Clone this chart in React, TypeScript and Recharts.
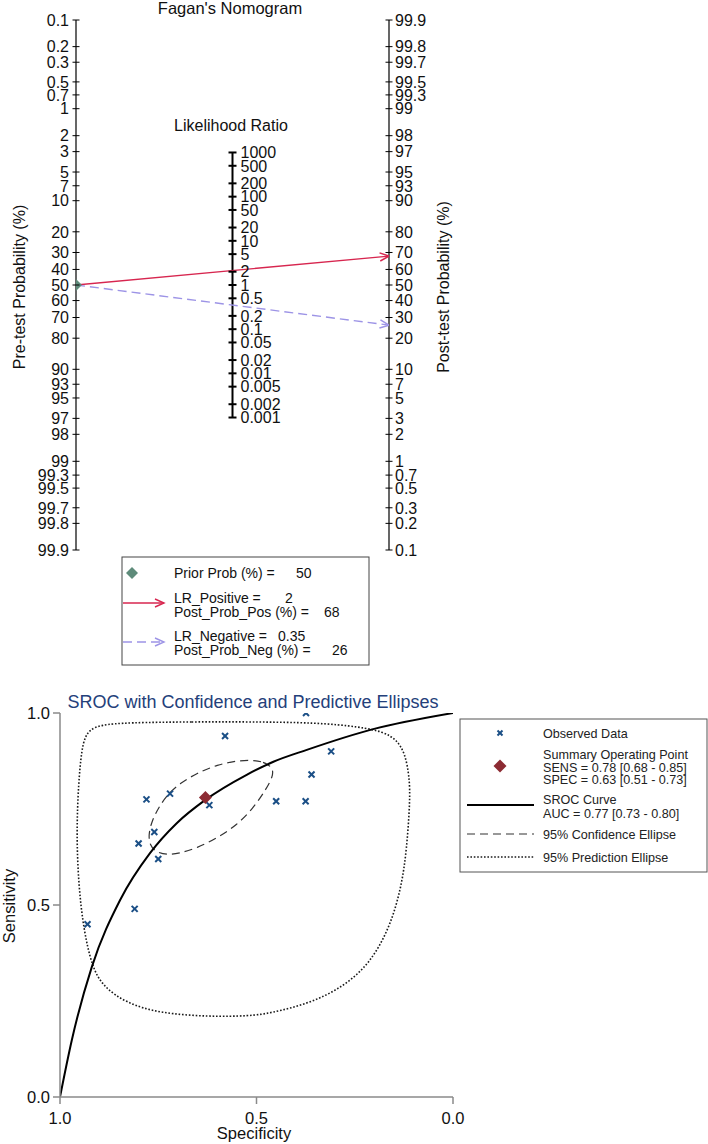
import React from 'react';
import { ComposedChart, Line, Scatter, XAxis, YAxis } from 'recharts';

const FONT = '"Liberation Sans", Arial, Helvetica, sans-serif';

// ---------- Fagan nomogram data ----------
const probTicks = [0.1, 0.2, 0.3, 0.5, 0.7, 1, 2, 3, 5, 7, 10, 20, 30, 40, 50, 60, 70, 80, 90, 93, 95, 97, 98, 99, 99.3, 99.5, 99.7, 99.8, 99.9];
const lrTicks = [1000, 500, 200, 100, 50, 20, 10, 5, 2, 1, 0.5, 0.2, 0.1, 0.05, 0.02, 0.01, 0.005, 0.002, 0.001];
const priorProb = 50;
const lrPositive = 2;
const postProbPos = 68;
const lrNegative = 0.35;
const postProbNeg = 26;

// ---------- SROC data ----------
const observedSpec = [0.374, 0.58, 0.31, 0.36, 0.72, 0.78, 0.45, 0.375, 0.62, 0.76, 0.8, 0.75, 0.81, 0.93];
const observedSens = [1.0, 0.94, 0.9, 0.84, 0.79, 0.775, 0.77, 0.77, 0.76, 0.69, 0.66, 0.62, 0.49, 0.45];
const summarySpec = 0.63;
const summarySens = 0.78;
const srocSpec = [1.0, 0.97, 0.919, 0.847, 0.771, 0.703, 0.631, 0.525, 0.457, 0.372, 0.203, 0.0];
const srocSens = [0.0, 0.148, 0.339, 0.513, 0.635, 0.713, 0.773, 0.839, 0.873, 0.904, 0.958, 1.0];
const confSpec = [0.457, 0.483, 0.542, 0.601, 0.652, 0.695, 0.728, 0.75, 0.767, 0.775, 0.771, 0.758, 0.728, 0.695, 0.652, 0.601, 0.55, 0.508, 0.474, 0.459];
const confSens = [0.856, 0.876, 0.878, 0.865, 0.843, 0.817, 0.786, 0.752, 0.717, 0.682, 0.656, 0.639, 0.63, 0.635, 0.648, 0.674, 0.708, 0.752, 0.804, 0.834];
const predSpec = [0.83, 0.661, 0.517, 0.347, 0.237, 0.177, 0.143, 0.122, 0.111, 0.109, 0.118, 0.131, 0.16, 0.211, 0.279, 0.364, 0.466, 0.517, 0.618, 0.746, 0.83, 0.89, 0.919, 0.941, 0.953, 0.958, 0.953, 0.945, 0.936, 0.924, 0.898];
const predSens = [0.975, 0.977, 0.977, 0.975, 0.964, 0.951, 0.93, 0.895, 0.834, 0.773, 0.643, 0.548, 0.443, 0.348, 0.287, 0.244, 0.218, 0.211, 0.209, 0.218, 0.244, 0.287, 0.339, 0.443, 0.557, 0.687, 0.817, 0.904, 0.938, 0.956, 0.969];
const srocTicks = [0, 0.5, 1];

// ---------- derived tables ----------
const logit = (p: number) => Math.log(p / (100 - p));
const L = logit(99.9);
const probTickVals = probTicks.map(logit);
const posLine = [{ x: 0, u: logit(priorProb) }, { x: 1, u: -logit(postProbPos) }];
const negLine = [{ x: 0, u: logit(priorProb) }, { x: 1, u: -logit(postProbNeg) }];
const priorPoint = [{ x: 0, u: logit(priorProb) }];
const lrPoints = lrTicks.map((lr) => ({ x: 0.5, u: -Math.log(lr) / 2, lr }));
const lrAxis = [
  { x: 0.5, u: -Math.log(lrTicks[0]) / 2 },
  { x: 0.5, u: -Math.log(lrTicks[lrTicks.length - 1]) / 2 },
];

const observedData = observedSpec.map((s, i) => ({ spec: s, sens: observedSens[i] }));
const summaryData = [{ spec: summarySpec, sens: summarySens }];
const srocData = srocSpec.map((s, i) => ({ spec: s, sens: srocSens[i] }));
const confData = confSpec.map((s, i) => ({ spec: s, sens: confSens[i] }));
const predData = predSpec.map((s, i) => ({ spec: s, sens: predSens[i] }));

const RED = '#d7264f';
const BLUE = '#9d94e6';
const GREEN = '#5e8b7a';
const XBLUE = '#1b4f86';
const DRED = '#8c2b33';

const probLabel = (v: number) => {
  let best = 0;
  let bd = Infinity;
  probTickVals.forEach((t, i) => {
    const d = Math.abs(t - v);
    if (d < bd) {
      bd = d;
      best = i;
    }
  });
  return String(probTicks[best]);
};

const ProbTick = (props: any) => {
  const { x, y, payload, side } = props;
  const left = side === 'left';
  return (
    <g>
      <line x1={x - 3.5} x2={x + 3.5} y1={y} y2={y} stroke="#000" strokeWidth={1} />
      <text
        x={left ? x - 7 : x + 6}
        y={y}
        dy="0.36em"
        textAnchor={left ? 'end' : 'start'}
        fontSize={16}
        fontFamily={FONT}
        fill="#111"
      >
        {probLabel(payload.value)}
      </text>
    </g>
  );
};

const LrTick = (props: any) => {
  const { cx, cy, payload } = props;
  return (
    <g>
      <line x1={cx - 4} x2={cx + 4} y1={cy} y2={cy} stroke="#000" strokeWidth={2} />
      <text x={cx + 8} y={cy} dy="0.36em" fontSize={16} fontFamily={FONT} fill="#111">
        {String(payload.lr)}
      </text>
    </g>
  );
};

const arrowDot = (color: string) => (props: any) => {
  const { cx, cy, index, points } = props;
  if (index !== 1 || cx == null) return <g key={`d${index}`} />;
  let ang = 0;
  if (points && points[0]) ang = Math.atan2(cy - points[0].y, cx - points[0].x);
  const len = 10;
  const sp = 0.42;
  const ax = cx - len * Math.cos(ang - sp);
  const ay = cy - len * Math.sin(ang - sp);
  const bx = cx - len * Math.cos(ang + sp);
  const by = cy - len * Math.sin(ang + sp);
  return (
    <path key={`d${index}`} d={`M${ax},${ay} L${cx},${cy} L${bx},${by}`} fill="none" stroke={color} strokeWidth={1.5} />
  );
};

const Diamond = (color: string, r: number) => (props: any) => {
  const { cx, cy } = props;
  return <path d={`M${cx},${cy - r} L${cx + r},${cy} L${cx},${cy + r} L${cx - r},${cy} Z`} fill={color} />;
};

const XMark = (props: any) => {
  const { cx, cy } = props;
  const r = 3;
  return (
    <g stroke={XBLUE} strokeWidth={2}>
      <line x1={cx - r} y1={cy - r} x2={cx + r} y2={cy + r} />
      <line x1={cx - r} y1={cy + r} x2={cx + r} y2={cy - r} />
    </g>
  );
};

function Nomogram() {
  const lf = { fontSize: 14, fontFamily: FONT, fill: '#111' };
  return (
    <ComposedChart width={708} height={680} margin={{ top: 20, right: 259, bottom: 130, left: 0 }}>
      <XAxis type="number" dataKey="x" domain={[0, 1]} hide height={0} allowDataOverflow />
      <YAxis
        yAxisId="pre"
        orientation="left"
        type="number"
        dataKey="u"
        domain={[-L, L]}
        reversed
        allowDataOverflow
        ticks={probTickVals}
        interval={0}
        width={76}
        tickSize={0}
        tickMargin={0}
        tickLine={false}
        axisLine={{ stroke: '#000', strokeWidth: 1.2 }}
        tick={<ProbTick side="left" />}
      />
      <YAxis
        yAxisId="post"
        orientation="right"
        type="number"
        domain={[-L, L]}
        allowDataOverflow
        ticks={probTickVals}
        interval={0}
        width={60}
        tickSize={0}
        tickMargin={0}
        tickLine={false}
        axisLine={{ stroke: '#000', strokeWidth: 1.2 }}
        tick={<ProbTick side="right" />}
      />
      <Line yAxisId="pre" data={lrAxis} dataKey="u" stroke="#000" strokeWidth={2} dot={false} isAnimationActive={false} />
      <Scatter yAxisId="pre" data={lrPoints} dataKey="u" shape={<LrTick />} isAnimationActive={false} />
      <Line yAxisId="pre" data={posLine} dataKey="u" stroke={RED} strokeWidth={1.4} dot={arrowDot(RED)} activeDot={false} isAnimationActive={false} />
      <Line yAxisId="pre" data={negLine} dataKey="u" stroke={BLUE} strokeWidth={1.4} strokeDasharray="9 5" dot={arrowDot(BLUE)} activeDot={false} isAnimationActive={false} />
      <Scatter yAxisId="pre" data={priorPoint} dataKey="u" shape={Diamond(GREEN, 6)} isAnimationActive={false} />

      <text x={230} y={14} textAnchor="middle" fontSize={16.5} fontFamily={FONT} fill="#111">Fagan's Nomogram</text>
      <text x={231} y={131} textAnchor="middle" fontSize={16} fontFamily={FONT} fill="#111">Likelihood Ratio</text>
      <text transform="translate(25,287) rotate(-90)" textAnchor="middle" fontSize={16} fontFamily={FONT} fill="#111">Pre-test Probability (%)</text>
      <text transform="translate(449,287) rotate(-90)" textAnchor="middle" fontSize={16} fontFamily={FONT} fill="#111">Post-test Probability (%)</text>

      <g>
        <rect x={122} y={557} width={247} height={108} fill="#fff" stroke="#444" strokeWidth={1} />
        <path d="M132,567 L138,573 L132,579 L126,573 Z" fill={GREEN} />
        <text x={174} y={573} dy="0.36em" {...lf}>Prior Prob (%) =</text>
        <text x={296} y={573} dy="0.36em" {...lf}>{priorProb}</text>
        <line x1={123} y1={603} x2={164} y2={603} stroke={RED} strokeWidth={1.4} />
        <path d="M155,599 L164,603 L155,607" fill="none" stroke={RED} strokeWidth={1.4} />
        <text x={174} y={598} dy="0.36em" {...lf}>LR_Positive =</text>
        <text x={285} y={598} dy="0.36em" {...lf}>{lrPositive}</text>
        <text x={174} y={612} dy="0.36em" {...lf}>Post_Prob_Pos (%) =</text>
        <text x={324} y={612} dy="0.36em" {...lf}>{postProbPos}</text>
        <line x1={123} y1={642} x2={164} y2={642} stroke={BLUE} strokeWidth={1.4} strokeDasharray="9 5" />
        <path d="M155,638 L164,642 L155,646" fill="none" stroke={BLUE} strokeWidth={1.4} />
        <text x={174} y={636} dy="0.36em" {...lf}>LR_Negative =</text>
        <text x={278} y={636} dy="0.36em" {...lf}>{lrNegative}</text>
        <text x={174} y={650} dy="0.36em" {...lf}>Post_Prob_Neg (%) =</text>
        <text x={332} y={650} dy="0.36em" {...lf}>{postProbNeg}</text>
      </g>
    </ComposedChart>
  );
}

function Sroc() {
  const lf = { fontSize: 12.6, fontFamily: FONT, fill: '#222' };
  const axisStroke = { stroke: '#8a8a8a', strokeWidth: 1.5 };
  return (
    <ComposedChart width={708} height={464} margin={{ top: 33, right: 255, bottom: 0, left: 0 }}>
      <XAxis
        type="number"
        dataKey="spec"
        domain={[0, 1]}
        reversed
        allowDataOverflow
        ticks={srocTicks}
        interval={0}
        height={47}
        tickSize={7}
        tickMargin={8}
        tickFormatter={(v: number) => v.toFixed(1)}
        axisLine={axisStroke}
        tickLine={axisStroke}
        tick={{ fill: '#111', fontSize: 16.5, fontFamily: FONT }}
      />
      <YAxis
        type="number"
        dataKey="sens"
        domain={[0, 1]}
        allowDataOverflow
        ticks={srocTicks}
        interval={0}
        width={60}
        tickSize={7}
        tickMargin={3}
        tickFormatter={(v: number) => v.toFixed(1)}
        axisLine={axisStroke}
        tickLine={axisStroke}
        tick={{ fill: '#111', fontSize: 16.5, fontFamily: FONT }}
      />
      <Line data={predData} dataKey="sens" type="basisClosed" stroke="#1a1a1a" strokeWidth={1.6} strokeDasharray="1.6 1.8" dot={false} activeDot={false} isAnimationActive={false} />
      <Line data={confData} dataKey="sens" type="basisClosed" stroke="#333" strokeWidth={1.2} strokeDasharray="8 5" dot={false} activeDot={false} isAnimationActive={false} />
      <Line data={srocData} dataKey="sens" type="monotone" stroke="#000" strokeWidth={2} dot={false} activeDot={false} isAnimationActive={false} />
      <Scatter data={observedData} dataKey="sens" shape={<XMark />} isAnimationActive={false} />
      <Scatter data={summaryData} dataKey="sens" shape={Diamond(DRED, 6.5)} isAnimationActive={false} />

      <text x={253} y={28} textAnchor="middle" fontSize={18} fontFamily={FONT} fill="#24407a">SROC with Confidence and Predictive Ellipses</text>
      <text x={254} y={459} textAnchor="middle" fontSize={16.5} fontFamily={FONT} fill="#111">Specificity</text>
      <text transform="translate(14.5,226) rotate(-90)" textAnchor="middle" fontSize={16.5} fontFamily={FONT} fill="#111">Sensitivity</text>

      <g>
        <rect x={460} y={39} width={247} height={153} fill="#fff" stroke="#555" strokeWidth={1} />
        <g stroke={XBLUE} strokeWidth={2}>
          <line x1={497.5} y1={50.5} x2={502.5} y2={55.5} />
          <line x1={497.5} y1={55.5} x2={502.5} y2={50.5} />
        </g>
        <text x={543} y={53} dy="0.36em" {...lf}>Observed Data</text>
        <path d="M500,79.5 L506.5,86 L500,92.5 L493.5,86 Z" fill={DRED} />
        <text x={543} y={74} dy="0.36em" {...lf}>Summary Operating Point</text>
        <text x={543} y={87} dy="0.36em" {...lf}>SENS = 0.78 [0.68 - 0.85]</text>
        <text x={543} y={99} dy="0.36em" {...lf}>SPEC = 0.63 [0.51 - 0.73]</text>
        <line x1={467} y1={125} x2={534} y2={125} stroke="#000" strokeWidth={2} />
        <text x={543} y={119} dy="0.36em" {...lf}>SROC Curve</text>
        <text x={543} y={133} dy="0.36em" {...lf}>AUC = 0.77 [0.73 - 0.80]</text>
        <line x1={467} y1={154} x2={534} y2={154} stroke="#333" strokeWidth={1.2} strokeDasharray="8 5" />
        <text x={543} y={154} dy="0.36em" {...lf}>95% Confidence Ellipse</text>
        <line x1={467} y1={177} x2={534} y2={177} stroke="#1a1a1a" strokeWidth={1.4} strokeDasharray="1.6 1.8" />
        <text x={543} y={177} dy="0.36em" {...lf}>95% Prediction Ellipse</text>
      </g>
    </ComposedChart>
  );
}

export default function App() {
  return (
    <div style={{ position: 'absolute', left: 0, top: 0, width: 708, height: 1144, background: '#fff', overflow: 'hidden' }}>
      <div style={{ position: 'absolute', left: 0, top: 0 }}>
        <Nomogram />
      </div>
      <div style={{ position: 'absolute', left: 0, top: 680 }}>
        <Sroc />
      </div>
    </div>
  );
}
